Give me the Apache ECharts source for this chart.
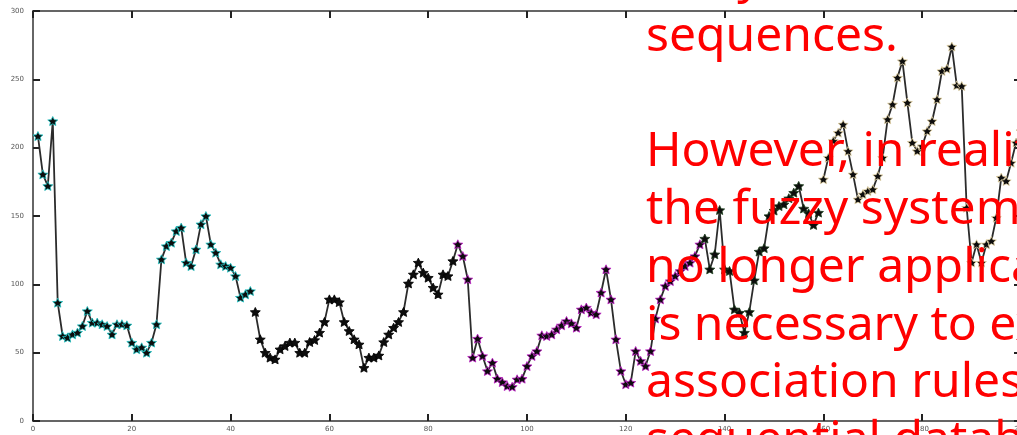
<!DOCTYPE html>
<html>
<head>
<meta charset="utf-8">
<script src="https://cdn.jsdelivr.net/npm/echarts@6/dist/echarts.min.js"></script>
<style>
  html, body { margin: 0; padding: 0; background: #fff; }
  #chart { width: 1017px; height: 435px; }
</style>
</head>
<body>
<div id="chart"></div>
<script>
// Sequence values, split into the five coloured runs of the series.
const segAStart = 1;
const segA = [208.5, 180.5, 172, 219.5, 86.6, 62.2, 61, 63.4, 64.7, 69.5,
  80.5, 72, 72, 70.8, 69.5, 63.4, 70.8, 70.8, 70, 57.4,
  52.5, 53.9, 50, 57.4, 70.8, 118.3, 128, 130.5, 139, 141.5,
  115.9, 113.4, 125.6, 144, 150, 129.3, 123.2, 114.7, 113.4, 112.2,
  106.1, 90.3, 92.7, 95.1];
const segBStart = 45;
const segB = [79.8, 59.8, 50, 46.4, 45.1, 52.5, 54.9, 57.4, 57.4, 50,
  50, 57.8, 59.3, 64.7, 72.5, 89, 89, 87, 72.5, 65.9,
  59.8, 56.1, 39, 46.4, 46.4, 48, 57.8, 63.4, 68.3, 72.5,
  79.8, 100.7, 107.3, 115.9, 108.6, 104.9, 97.6, 92.7, 107.3, 106.1,
  117.1];
const segCStart = 86;
const segC = [129.3, 120.7, 103.7, 46.4, 60.3, 47.6, 36.6, 42.7, 31, 28.5,
  25.6, 25.1, 30.5, 31, 40.2, 47.6, 51.2, 62.7, 62.2, 63.4,
  67.1, 70, 73.2, 71.5, 68.3, 81.7, 83, 79.3, 78.1, 94,
  111, 89, 59.8, 36.6, 26.9, 28.1, 51.2, 44, 40.2, 51.2,
  75, 89, 98.8, 102.4, 106.1, 109.8, 113.4, 115.9, 120.7, 129.3];
const segDStart = 136;
const segD = [133.5, 111, 122, 154.4, 111, 109.8, 81.7, 79.3, 64.7, 79.8,
  103, 124, 126.5, 150, 154, 157.3, 158.6, 163, 167.1, 172,
  155.5, 152, 143.5, 152.5];
const segEStart = 160;
const segE = [176.9, 192.7, 205, 211, 217, 197.5, 180.5, 162.2, 165.9, 168.3,
  169.5, 179.3, 192.7, 220.8, 231.7, 251.3, 263.4, 233, 203.7, 197.6,
  201.2, 212.2, 219.5, 235.4, 256.1, 257.8, 274, 245.6, 245.1, 156.1,
  115.9, 129.3, 115.9, 129.3, 131.7, 148.8, 178.1, 175.6, 189, 203.7,
  212.2];

// Overlaid caption lines
const captionLines = [
  'fuzzy',
  'sequences.',
  '',
  'However, in reality,',
  'the fuzzy system is',
  'no longer applicable. It',
  'is necessary to extract',
  'association rules from',
  'sequential databases.'
];

const toPairs = (start, vals) => vals.map((v, i) => [start + i, v]);

const runs = [
  { start: segAStart, vals: segA, edge: '#1fc4c4' },
  { start: segBStart, vals: segB, edge: '#000000' },
  { start: segCStart, vals: segC, edge: '#c020c8' },
  { start: segDStart, vals: segD, edge: '#1d3d1d' },
  { start: segEStart, vals: segE, edge: '#e6d6a8' }
];

// One connecting line, broken where the runs are not joined.
const lineData = []
  .concat(toPairs(segAStart, segA), [[segBStart - 0.5, '-']])
  .concat(toPairs(segBStart, segB), toPairs(segCStart, segC), toPairs(segDStart, segD))
  .concat([[segEStart - 0.5, '-']], toPairs(segEStart, segE));

const starPath = 'path://M0,-10 L2.9,-3.6 9.5,-3.1 4.6,1.6 5.9,8.1 0,4.8 -5.9,8.1 -4.6,1.6 -9.5,-3.1 -2.9,-3.6 Z';

const axisCommon = {
  type: 'value',
  axisLine: { show: true, onZero: false, lineStyle: { color: '#333', width: 1.5 } },
  axisTick: { show: true, inside: true, length: 7, lineStyle: { color: '#222', width: 2 } },
  splitLine: { show: false }
};

const labelStyle = { color: '#555', fontSize: 7, fontFamily: 'DejaVu Sans' };

const chart = echarts.init(document.getElementById('chart'), null, { renderer: 'canvas' });

const captionFont = 48;
const captionLeft = 646;
const firstBaseline = -6.5;
const lineStep = 57.8;

chart.setOption({
  animation: false,
  backgroundColor: '#ffffff',
  grid: { left: 33, top: 11, width: 988, height: 410, show: false, outerBoundsMode: 'none', containLabel: false },
  xAxis: [
    Object.assign({}, axisCommon, {
      position: 'bottom', min: 0, max: 200, interval: 20,
      axisLabel: Object.assign({ margin: 5 }, labelStyle)
    }),
    Object.assign({}, axisCommon, {
      position: 'top', min: 0, max: 200, interval: 20,
      axisLabel: { show: false }
    })
  ],
  yAxis: [
    Object.assign({}, axisCommon, {
      position: 'left', min: 0, max: 300, interval: 50,
      axisLabel: Object.assign({ margin: 9 }, labelStyle)
    }),
    Object.assign({}, axisCommon, {
      position: 'right', min: 0, max: 300, interval: 50,
      axisLabel: { show: false }
    })
  ],
  series: [
    {
      type: 'line',
      data: lineData,
      showSymbol: false,
      connectNulls: false,
      lineStyle: { color: '#2b2b2b', width: 1.8 },
      z: 2
    }
  ].concat(runs.map(r => ({
    type: 'scatter',
    data: toPairs(r.start, r.vals),
    symbol: starPath,
    symbolSize: [10, 9],
    itemStyle: { color: '#0d0d0d', borderColor: r.edge, borderWidth: 0.8, opacity: 1 },
    z: 3
  }))),
  graphic: captionLines.map((t, i) => ({
    type: 'text',
    z: 100,
    silent: true,
    style: {
      text: t,
      x: captionLeft,
      y: firstBaseline + i * lineStep - captionFont * 0.3,
      fill: '#ff0000',
      fontSize: captionFont,
      fontFamily: '"Noto Sans", sans-serif',
      verticalAlign: 'middle',
      align: 'left'
    }
  }))
});
</script>
</body>
</html>
